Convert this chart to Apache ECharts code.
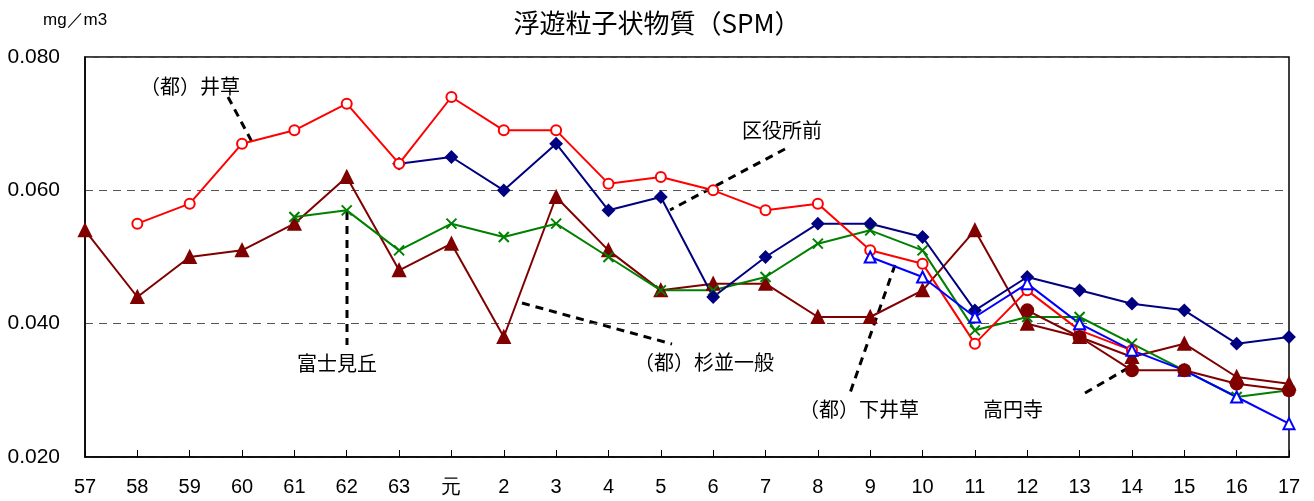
<!DOCTYPE html>
<html><head><meta charset="utf-8">
<script src="https://cdn.jsdelivr.net/npm/echarts@6/dist/echarts.min.js"></script>
<style>html,body{margin:0;padding:0;background:#fff}#c{width:1314px;height:501px}</style>
</head><body><div id="c"></div>
<script>
const categories = ['57','58','59','60','61','62','63','元','2','3','4','5','6','7','8','9','10','11','12','13','14','15','16','17'];
const yTicks = [0.020, 0.040, 0.060, 0.080];
const suginamiIppan = [0.054,0.044,0.050,0.051,0.055,0.062,0.048,0.052,0.038,0.059,0.051,0.045,0.046,0.046,0.041,0.041,0.045,0.054,0.040,0.038,0.035,0.037,0.032,0.031];
const fujimigaoka = [null,null,null,null,0.056,0.057,0.051,0.055,0.053,0.055,0.050,0.045,0.045,0.047,0.052,0.054,0.051,0.039,0.041,0.041,0.037,0.033,0.029,0.030];
const kuyakushomae = [null,null,null,null,null,null,0.064,0.065,0.060,0.067,0.057,0.059,0.044,0.050,0.055,0.055,0.053,0.042,0.047,0.045,0.043,0.042,0.037,0.038];
const igusa = [null,0.055,0.058,0.067,0.069,0.073,0.064,0.074,0.069,0.069,0.061,0.062,0.060,0.057,0.058,0.051,0.049,0.037,0.045,0.039,0.036,null,null,null];
const shimoIgusa = [null,null,null,null,null,null,null,null,null,null,null,null,null,null,null,0.050,0.047,0.041,0.046,0.040,0.036,0.033,0.029,0.025];
const koenji = [null,null,null,null,null,null,null,null,null,null,null,null,null,null,null,null,null,null,0.042,0.038,0.033,0.033,0.031,0.030];

const chart = echarts.init(document.getElementById('c'), null, {renderer:'canvas'});
const jp = '"Noto Sans CJK JP", sans-serif';
const num = '"Liberation Sans", Arial, sans-serif';
function line(name, data, color, symbol, size) {
  return {
    name, type:'line', data, symbol, symbolSize:size, connectNulls:false,
    lineStyle:{color, width:2}, itemStyle:{color, borderColor:color, borderWidth:2},
    emphasis:{disabled:true}, animation:false
  };
}
const dash = {stroke:'#000', lineWidth:3, lineDash:[8,6]};
function ann(x,y,text){return {type:'text', left:x, top:y, style:{text, font:'20px '+jp, fill:'#000'}};}
function seg(x1,y1,x2,y2){return {type:'line', shape:{x1,y1,x2,y2}, style:dash};}
chart.setOption({
  animation:false,
  title:{text:'浮遊粒子状物質（SPM）', left:'center', top:5, textStyle:{fontFamily:jp, fontSize:26, fontWeight:'normal', color:'#000'}},
  grid:{left:85, right:25, top:57, bottom:44, show:true, borderColor:'#000', borderWidth:1.5, backgroundColor:'transparent'},
  xAxis:{type:'category', data:categories, boundaryGap:false,
    axisLine:{lineStyle:{color:'#000', width:1.5}},
    axisTick:{inside:true, length:7, lineStyle:{color:'#000'}, alignWithLabel:true},
    axisLabel:{color:'#000', fontFamily:num, fontSize:20, margin:20, interval:0}},
  yAxis:{type:'value', min:yTicks[0], max:yTicks[yTicks.length-1], interval:0.02,
    axisLine:{show:true, lineStyle:{color:'#000', width:1.5}}, axisTick:{show:false},
    axisLabel:{color:'#000', fontFamily:num, fontSize:21, margin:25, formatter:v=>v.toFixed(3)},
    splitLine:{show:true, lineStyle:{color:'#555', type:[8,6], width:1}}},
  series:[
    line('(都)杉並一般', suginamiIppan, '#800000', 'triangle', 12),
    line('富士見丘', fujimigaoka, '#008000', 'path://M0,0L10,10M10,0L0,10', 10),
    line('区役所前', kuyakushomae, '#000080', 'diamond', 11),
    line('(都)井草', igusa, '#FF0000', 'emptyCircle', 10),
    line('(都)下井草', shimoIgusa, '#0000FF', 'emptyTriangle', 11),
    line('高円寺', koenji, '#800000', 'circle', 12)
  ],
  graphic:[
    {type:'text', left:43, top:12, style:{text:'mg／m3', font:'17px '+num, fill:'#000'}},
    ann(140,76,'（都）井草'), seg(228,97,252,142),
    ann(742,120,'区役所前'), seg(785,149,670,210),
    ann(297,353,'富士見丘'), seg(347,212,347,345),
    ann(634,352,'（都）杉並一般'), seg(522,303,672,344),
    ann(799,399,'（都）下井草'), seg(895,265,850,393),
    ann(983,399,'高円寺'), seg(1085,393,1128,368)
  ]
});
</script></body></html>
